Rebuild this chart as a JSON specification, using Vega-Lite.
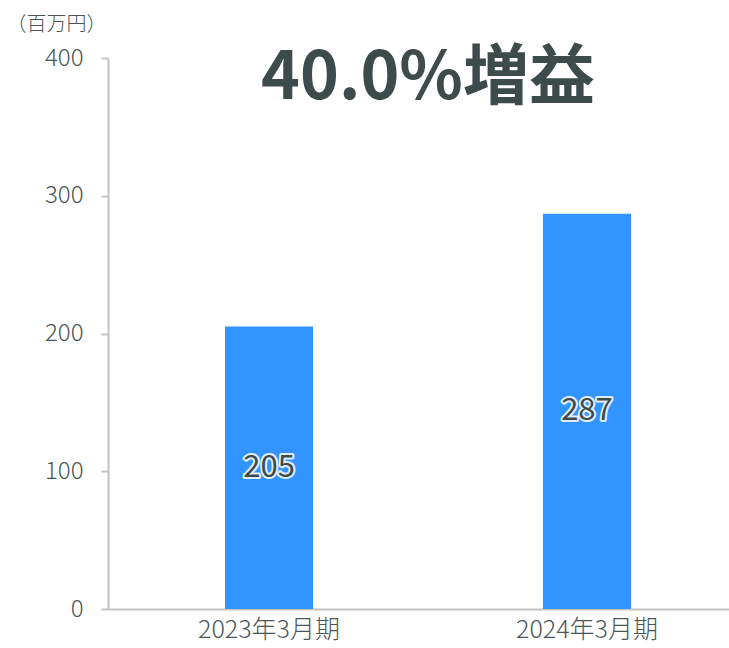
{
  "$schema": "https://vega.github.io/schema/vega-lite/v6.json",
  "autosize": {"type": "none"},
  "padding": {"left": 108, "top": 58, "right": 0, "bottom": 39},
  "width": 640,
  "height": 551,
  "background": "white",
  "config": {
    "font": "Noto Sans CJK JP",
    "view": {"stroke": null}
  },
  "title": {
    "text": "40.0%増益",
    "fontSize": 66,
    "fontWeight": "bold",
    "color": "#3d4b4b",
    "font": "Noto Sans CJK JP",
    "anchor": "middle",
    "baseline": "alphabetic",
    "offset": -43,
    "dy": 108
  },
  "data": {
    "values": [
      {"period": "2023年3月期", "value": 205},
      {"period": "2024年3月期", "value": 287}
    ]
  },
  "transform": [{"calculate": "datum.value / 2", "as": "mid"}],
  "encoding": {
    "x": {
      "field": "period",
      "type": "nominal",
      "sort": null,
      "scale": {"paddingInner": 0.723, "paddingOuter": 0.368},
      "axis": {
        "title": null,
        "labelAngle": 0,
        "labelFontSize": 25,
        "labelFontWeight": 300,
        "labelColor": "#4a5656",
        "labelPadding": 8,
        "ticks": false,
        "domainColor": "#c4c4c4",
        "domainWidth": 2
      }
    }
  },
  "layer": [
    {
      "mark": {"type": "bar", "color": "#3194ff"},
      "encoding": {
        "y": {
          "field": "value",
          "type": "quantitative",
          "scale": {"domain": [0, 400]},
          "axis": {
            "values": [0, 100, 200, 300, 400],
            "grid": false,
            "title": "（百万円）",
            "titleAngle": 0,
            "titleAlign": "right",
            "titleBaseline": "middle",
            "titleX": -2,
            "titleY": -34,
            "titleFontSize": 20,
            "titleFontWeight": 300,
            "titleColor": "#4a5656",
            "labelFontSize": 24,
            "labelFontWeight": 300,
            "labelColor": "#4a5656",
            "labelPadding": 18,
            "tickSize": 7,
            "tickColor": "#c4c4c4",
            "tickWidth": 2,
            "domainColor": "#c4c4c4",
            "domainWidth": 2
          }
        }
      }
    },
    {
      "mark": {"type": "text", "fontSize": 31, "fontWeight": "normal", "stroke": "white", "strokeWidth": 4, "strokeJoin": "round", "fill": "white", "strokeOpacity": 0.85, "baseline": "middle"},
      "encoding": {
        "y": {"field": "mid", "type": "quantitative"},
        "text": {"field": "value", "type": "quantitative"}
      }
    },
    {
      "mark": {"type": "text", "fontSize": 31, "fontWeight": "normal", "fill": "#3d4b4b", "baseline": "middle"},
      "encoding": {
        "y": {"field": "mid", "type": "quantitative"},
        "text": {"field": "value", "type": "quantitative"}
      }
    }
  ]
}
